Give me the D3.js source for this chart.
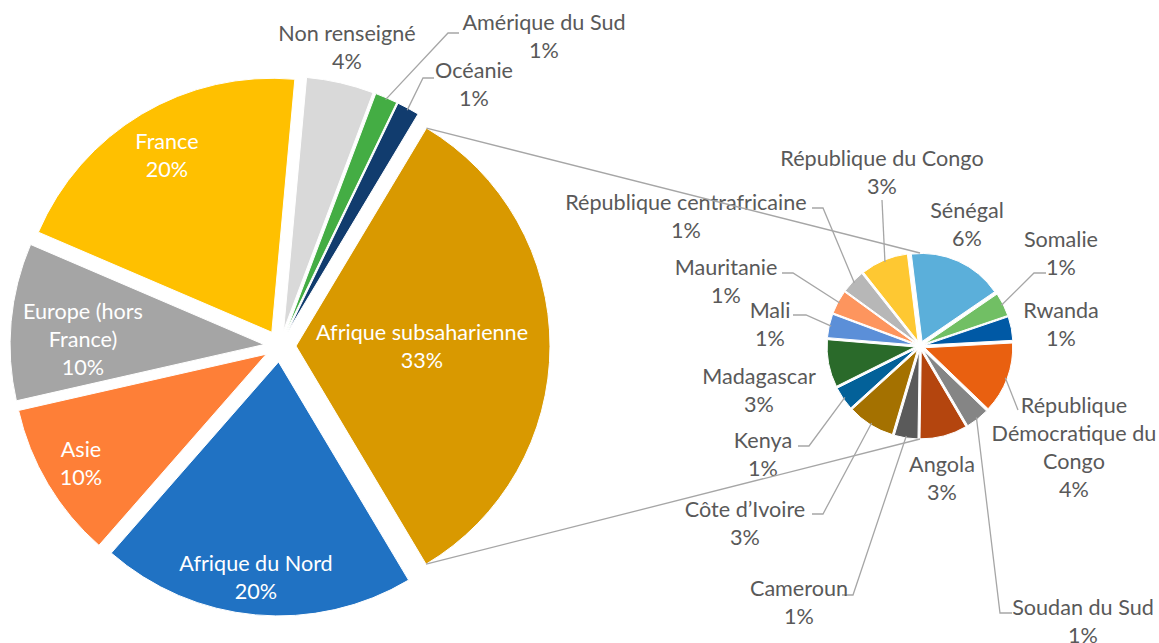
<!DOCTYPE html>
<html><head><meta charset="utf-8">
<script src="https://cdn.jsdelivr.net/npm/d3@7"></script>
<style>html,body{margin:0;padding:0;background:#fff;overflow:hidden}</style>
</head><body>
<svg id="chart" width="1159" height="643"></svg>
<script>
// ---------- data: main pie (counts) ----------
const regions = ["France","Non renseigné","Amérique du Sud","Océanie","Afrique subsaharienne","Afrique du Nord","Asie","Europe (hors France)"];
const regionCounts = [14, 3, 1, 1, 23, 14, 7, 7];
const regionColors = ["#FFC000","#D9D9D9","#44AD44","#113C6E","#D99900","#2072C3","#FE7F37","#A5A5A5"];
const regionLabelLines = [["France"],["Non renseigné"],["Amérique du Sud"],["Océanie"],["Afrique subsaharienne"],["Afrique du Nord"],["Asie"],["Europe (hors","France)"]];

// ---------- data: breakdown of Afrique subsaharienne (counts) ----------
const countries = ["Sénégal","Somalie","Rwanda","République Démocratique du Congo","Soudan du Sud","Angola","Cameroun","Côte d’Ivoire","Kenya","Madagascar","Mali","Mauritanie","République centrafricaine","République du Congo"];
const countryCounts = [4, 1, 1, 3, 1, 2, 1, 2, 1, 2, 1, 1, 1, 2];
const countryColors = ["#5BAFDA","#71BF64","#0059A5","#E96010","#858585","#B4450E","#5A5A5A","#A47100","#036199","#2A6A2A","#5B8FD8","#FD955E","#B7B7B7","#FEC832"];
const countryLabelLines = [["Sénégal"],["Somalie"],["Rwanda"],["République","Démocratique du","Congo"],["Soudan du Sud"],["Angola"],["Cameroun"],["Côte d’Ivoire"],["Kenya"],["Madagascar"],["Mali"],["Mauritanie"],["République centrafricaine"],["République du Congo"]];

// ---------- layout ----------
const main = {cx: 280, cy: 346, r: 254, d: 16, start: -66.8};
const sub  = {cx: 920, cy: 346, r: 88,  d: 5,  start: -7};
const FONT = "Lato, 'Open Sans', sans-serif";
const FS = 21.6, LH = 28;
const TXT = "#595959", LINE = "#A6A6A6";

// label anchor (center x, first-line center y) and leader points (label side)
const regionLabelPos = {
  "France": {x:167, y:141, inside:true},
  "Non renseigné": {x:347, y:33},
  "Amérique du Sud": {x:544, y:22, leader:[[459,33],[448,33]]},
  "Océanie": {x:474, y:70, leader:[[434,78],[423,78]]},
  "Afrique subsaharienne": {x:422, y:332, inside:true},
  "Afrique du Nord": {x:256, y:563, inside:true},
  "Asie": {x:81, y:449, inside:true},
  "Europe (hors France)": {x:83, y:311, inside:true}
};
const countryLabelPos = {
  "Sénégal": {x:967, y:210},
  "Somalie": {x:1061, y:239, leader:[[1046,273],[1034,273]]},
  "Rwanda": {x:1061, y:310},
  "République Démocratique du Congo": {x:1074, y:405, leader:[[1018,410]]},
  "Soudan du Sud": {x:1083, y:607, leader:[[1012,613],[1000,613]]},
  "Angola": {x:942, y:464},
  "Cameroun": {x:799, y:588, leader:[[842,595],[853,595]]},
  "Côte d’Ivoire": {x:745, y:509, leader:[[812,514],[823,514]]},
  "Kenya": {x:763, y:440, leader:[[798,446],[809,446]]},
  "Madagascar": {x:759, y:376},
  "Mali": {x:770, y:310, leader:[[793,315],[806,315]]},
  "Mauritanie": {x:726, y:267, leader:[[782,273],[793,273]]},
  "République centrafricaine": {x:686, y:202, leader:[[812,208],[823,208]]},
  "République du Congo": {x:882, y:158, leader:[[882,200]]}
};

const svg = d3.select("#chart");
const rad = a => a * Math.PI / 180;

function drawPie(cfg, names, counts, colors, lines, pos, total) {
  const pie = d3.pie().sort(null).value(d => d.v)
    .startAngle(rad(cfg.start)).endAngle(rad(cfg.start) + 2 * Math.PI);
  const data = names.map((n, i) => ({n, v: counts[i], c: colors[i], lines: lines[i]}));
  const arcs = pie(data);
  const arcGen = d3.arc().innerRadius(0).outerRadius(cfg.r);
  const g = svg.append("g").attr("transform", `translate(${cfg.cx},${cfg.cy})`);
  arcs.forEach(a => {
    const mid = (a.startAngle + a.endAngle) / 2;
    a.mid = mid;
    a.off = [Math.sin(mid) * cfg.d, -Math.cos(mid) * cfg.d];
  });
  g.selectAll("path").data(arcs).join("path")
    .attr("d", arcGen)
    .attr("transform", a => `translate(${a.off[0]},${a.off[1]})`)
    .attr("fill", a => a.data.c)
    .attr("stroke", "#fff").attr("stroke-width", 1);

  arcs.forEach(a => {
    const p = pos[a.data.n];
    if (p.leader) {
      const R = cfg.r + cfg.d - 2;
      const end = [cfg.cx + Math.sin(a.mid) * R, cfg.cy - Math.cos(a.mid) * R];
      const pts = p.leader.concat([end]);
      svg.append("path").attr("d", d3.line()(pts))
        .attr("fill", "none").attr("stroke", LINE).attr("stroke-width", 1.3);
    }
    const allLines = a.data.lines.concat([Math.round(a.data.v / total * 100) + "%"]);
    const t = svg.append("text")
      .attr("font-family", FONT).attr("font-size", FS)
      .attr("fill", p.inside ? "#fff" : TXT)
      .attr("text-anchor", "middle");
    allLines.forEach((s, i) => {
      t.append("tspan").attr("x", p.x).attr("y", p.y + i * LH)
        .attr("dominant-baseline", "central").text(s);
    });
  });
  return arcs;
}

const total = d3.sum(regionCounts);
const mainArcs = drawPie(main, regions, regionCounts, regionColors, regionLabelLines, regionLabelPos, total);
drawPie(sub, countries, countryCounts, countryColors, countryLabelLines, countryLabelPos, total);

// connector lines from the exploded subsaharan slice to the second pie
const ss = mainArcs.find(a => a.data.n === "Afrique subsaharienne");
const c0 = [main.cx + ss.off[0] + Math.sin(ss.startAngle) * main.r, main.cy + ss.off[1] - Math.cos(ss.startAngle) * main.r];
const c1 = [main.cx + ss.off[0] + Math.sin(ss.endAngle) * main.r, main.cy + ss.off[1] - Math.cos(ss.endAngle) * main.r];
const top2 = [sub.cx, sub.cy - sub.r - sub.d];
const bot2 = [sub.cx, sub.cy + sub.r + sub.d];
svg.append("path").attr("d", d3.line()([c0, top2])).attr("stroke", LINE).attr("stroke-width", 1.3).attr("fill", "none");
svg.append("path").attr("d", d3.line()([c1, bot2])).attr("stroke", LINE).attr("stroke-width", 1.3).attr("fill", "none");
</script>
</body></html>
